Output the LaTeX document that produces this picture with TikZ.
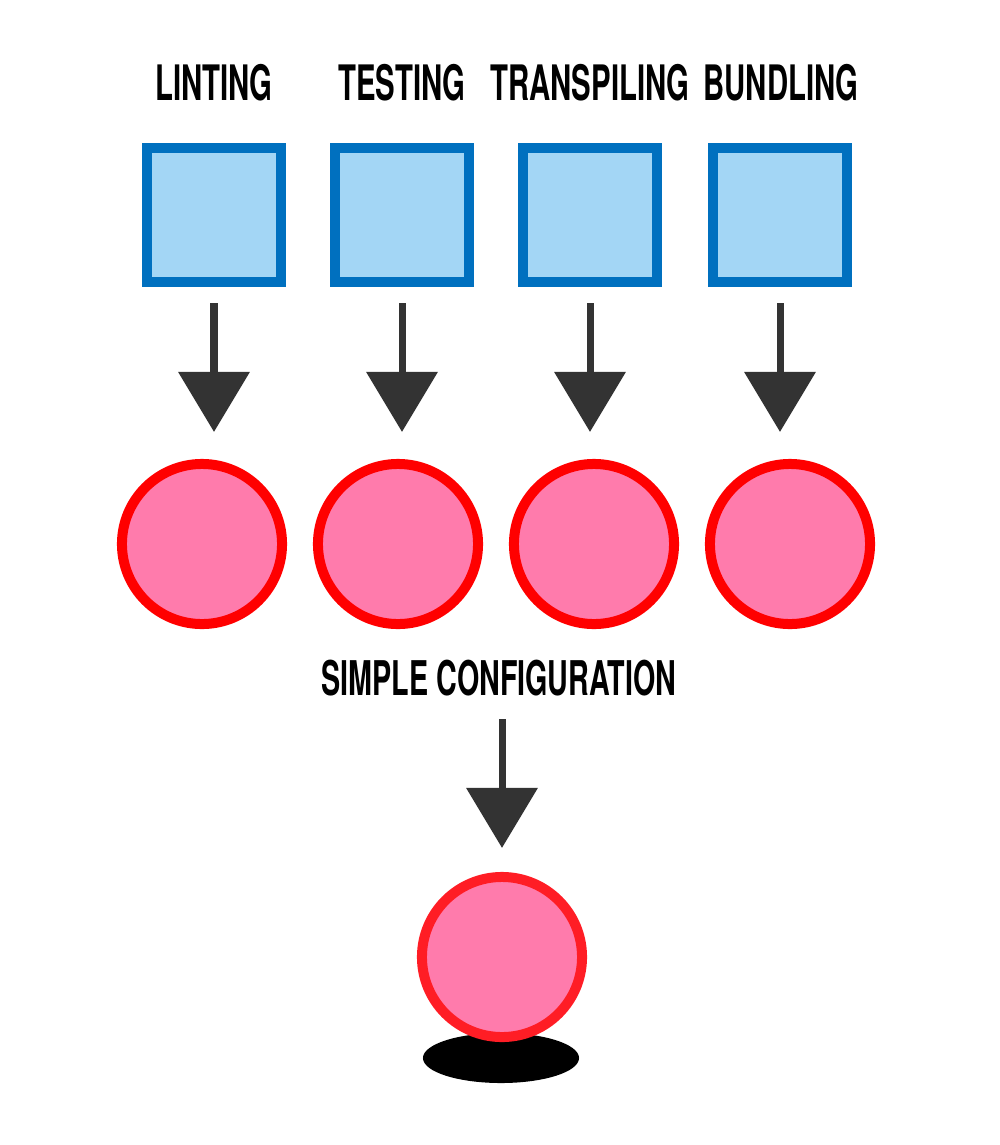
\documentclass[tikz,border=0pt]{standalone}
\usepackage{fontspec}
\setmainfont{TeX Gyre Heros}[FakeStretch=0.6]
\usetikzlibrary{arrows.meta}
\definecolor{boxblue}{HTML}{0070BF}
\definecolor{boxfill}{HTML}{A3D6F5}
\definecolor{dotred}{HTML}{FF0000}
\definecolor{dotpink}{HTML}{FF7BAC}
\definecolor{lastred}{HTML}{FF1D25}
\definecolor{arrowgray}{HTML}{333333}

\begin{document}
\begin{tikzpicture}[x=0.01cm, y=-0.01cm,
	box/.style={draw=boxblue, fill=boxfill, line width=0.1cm, minimum size=1.34cm, inner sep=0},
	dot/.style={circle, draw=dotred, fill=dotpink, line width=0.1cm, minimum size=1.6cm, inner sep=0},
	steplabel/.style={font=\bfseries\fontsize{13.9}{16}\selectfont, inner sep=0, text depth=0pt},
	flow/.style={arrowgray, line width=0.07cm, -{Triangle[width=0.7cm, length=0.6cm]}, shorten <=0.16cm, shorten >=0.27cm}]
	\useasboundingbox (0,0) rectangle (1000,1145);
	% \draw[help lines] (0,0) grid (1000,1145);
	\node[steplabel] (t1) at (214,82) {LINTING};
	\node[steplabel] (t2) at (402,82) {TESTING};
	\node[steplabel] (t3) at (590,82) {TRANSPILING};
	\node[steplabel] (t4) at (781,82) {BUNDLING};
	\node[box] (sq1) at (214,215) {};
	\node[box] (sq2) at (402,215) {};
	\node[box] (sq3) at (590,215) {};
	\node[box] (sq4) at (780,215) {};
	\node[dot] (c1) at (202,544) {};
	\node[dot] (c2) at (398,544) {};
	\node[dot] (c3) at (594,544) {};
	\node[dot] (c4) at (790,544) {};
	\draw[flow] (sq1.south) -- (sq1.south |- c1.north);
	\draw[flow] (sq2.south) -- (sq2.south |- c2.north);
	\draw[flow] (sq3.south) -- (sq3.south |- c3.north);
	\draw[flow] (sq4.south) -- (sq4.south |- c4.north);
	\node[steplabel, font=\bfseries\fontsize{13.6}{15}\selectfont] (cfg) at (499,678) {SIMPLE CONFIGURATION};
	% shadow under the single circle
	\fill[black] (501,1058) ellipse [x radius=0.78cm, y radius=0.25cm];
	\node[dot, draw=lastred] (last) at (502,957) {};
	\draw[flow, shorten <=0.23cm, shorten >=0.24cm] (last.north |- cfg.south) -- (last.north);
\end{tikzpicture}
\end{document}
